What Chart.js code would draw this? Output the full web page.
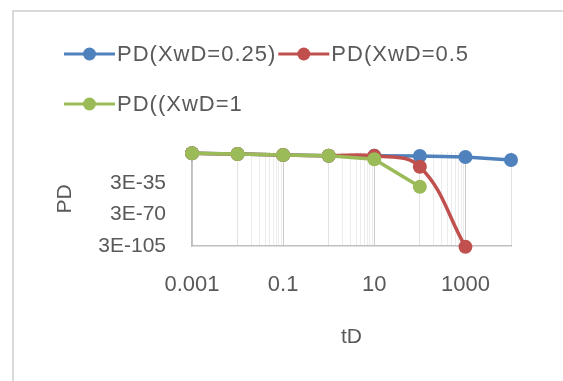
<!DOCTYPE html>
<html>
<head>
<meta charset="utf-8">
<script src="https://cdn.jsdelivr.net/npm/chart.js@4.4.1/dist/chart.umd.min.js"></script>
<style>
  html, body { margin: 0; padding: 0; background: #fff; }
  #wrap { width: 563px; height: 381px; }
</style>
</head>
<body>
<div id="wrap"><canvas id="chart" width="563" height="381"></canvas></div>
<script>
// values
const tD = [0.001, 0.01, 0.1, 1, 10, 100, 1000, 10000];
const pdXwD025 = [0.1, 0.017, 1.3e-3, 2e-4, 1.5e-4, 1e-4, 8e-6, 3e-9];
const pdXwD05 = [0.1, 0.017, 1.3e-3, 2e-4, 1.5e-4, 1e-16, 3.5e-106];
const pdXwD1 = [0.1, 0.017, 1.3e-3, 2e-4, 2e-8, 5e-39];
const seriesNames = ["PD(XwD=0.25)", "PD(XwD=0.5", "PD((XwD=1"];
const xLabels = [0.001, 0.1, 10, 1000];
const yLabels = [3e-105, 3e-70, 3e-35];

const textColor = "#595959";
const font = "Liberation Sans";

function toPoints(values) {
  return values.map((v, i) => ({ x: tD[i], y: v }));
}

function isLabelled(v) {
  return xLabels.some(l => Math.abs(l - v) / l < 1e-9);
}

// which decades get the thin minor lines (like the excel sheet)
const minorDecades = [0.01, 1, 100];

const frame = {
  id: "frame",
  beforeDraw(chart) {
    const ctx = chart.ctx;
    ctx.save();
    ctx.strokeStyle = "#d9d9d9";
    ctx.lineWidth = 2;
    ctx.strokeRect(13, 11, 700, 500);
    ctx.restore();
  }
};

const legendBox = {
  id: "legendBox",
  afterDraw(chart) {
    const ctx = chart.ctx;
    const rows = [[0, 1], [2]];
    const rowY = [54, 104];
    ctx.save();
    ctx.font = "22px '" + font + "'";
    ctx.letterSpacing = "1px";
    ctx.textBaseline = "middle";
    rows.forEach((row, r) => {
      let x = 64;
      const y = rowY[r];
      row.forEach(i => {
        const ds = chart.data.datasets[i];
        ctx.strokeStyle = ds.borderColor;
        ctx.lineWidth = 3;
        ctx.beginPath();
        ctx.moveTo(x, y);
        ctx.lineTo(x + 51, y);
        ctx.stroke();
        ctx.fillStyle = ds.backgroundColor;
        ctx.beginPath();
        ctx.arc(x + 25.5, y, 6.5, 0, Math.PI * 2);
        ctx.fill();
        ctx.fillStyle = textColor;
        ctx.fillText(ds.label, x + 53, y + 1);
        x += 53 + ctx.measureText(ds.label).width + 2;
      });
    });
    ctx.restore();
  }
};

new Chart(document.getElementById("chart"), {
  type: "line",
  data: {
    datasets: [
      {
        label: seriesNames[0],
        data: toPoints(pdXwD025),
        borderColor: "#4f81bd",
        backgroundColor: "#4f81bd",
        order: 2
      },
      {
        label: seriesNames[1],
        data: toPoints(pdXwD05),
        borderColor: "#c0504d",
        backgroundColor: "#c0504d",
        tension: 0.4,
        order: 1
      },
      {
        label: seriesNames[2],
        data: toPoints(pdXwD1),
        borderColor: "#9bbb59",
        backgroundColor: "#9bbb59",
        order: 0
      }
    ]
  },
  options: {
    responsive: false,
    animation: false,
    clip: false,
    layout: { padding: { left: 49, right: 52, top: 152, bottom: 27 } },
    elements: {
      line: { borderWidth: 3.5 },
      point: { radius: 7, hoverRadius: 7, borderWidth: 0 }
    },
    plugins: {
      legend: { display: false },
      tooltip: { enabled: false }
    },
    scales: {
      x: {
        type: "logarithmic",
        min: 0.001,
        max: 10000,
        afterBuildTicks(scale) {
          const ticks = [];
          tD.forEach(base => {
            ticks.push({ value: base });
            if (minorDecades.includes(base)) {
              for (let m = 2; m <= 9; m++) ticks.push({ value: m * base });
            }
          });
          scale.ticks = ticks;
        },
        afterFit(scale) { scale.height = 108; },
        grid: {
          drawTicks: false,
          color(c) {
            const v = c.tick.value;
            if (isLabelled(v)) return "#cccccc";
            if (tD.some(b => Math.abs(b - v) / b < 1e-9)) return "#e2e2e2";
            return "#ececec";
          },
          lineWidth: 1
        },
        border: { display: true, color: "#bfbfbf", width: 1.5 },
        ticks: {
          autoSkip: false,
          maxRotation: 0,
          padding: 26,
          color: textColor,
          font: { family: font, size: 22 },
          callback(v) { return isLabelled(v) ? String(v) : ""; }
        },
        title: {
          display: true,
          text: "tD",
          color: textColor,
          font: { family: font, size: 21 }
        }
      },
      y: {
        type: "logarithmic",
        min: 3e-105,
        max: 3,
        afterBuildTicks(scale) {
          scale.ticks = yLabels.map(v => ({ value: v }));
        },
        afterFit(scale) { scale.width = 143; },
        grid: { display: false, drawTicks: false },
        border: { display: true, color: "#bfbfbf", width: 1.5 },
        ticks: {
          padding: 26,
          color: textColor,
          font: { family: font, size: 21 },
          callback(v) { return v.toExponential(0).toUpperCase().replace("+", ""); }
        },
        title: {
          display: true,
          text: "PD",
          color: textColor,
          font: { family: font, size: 21 }
        }
      }
    }
  },
  plugins: [frame, legendBox]
});
</script>
</body>
</html>
